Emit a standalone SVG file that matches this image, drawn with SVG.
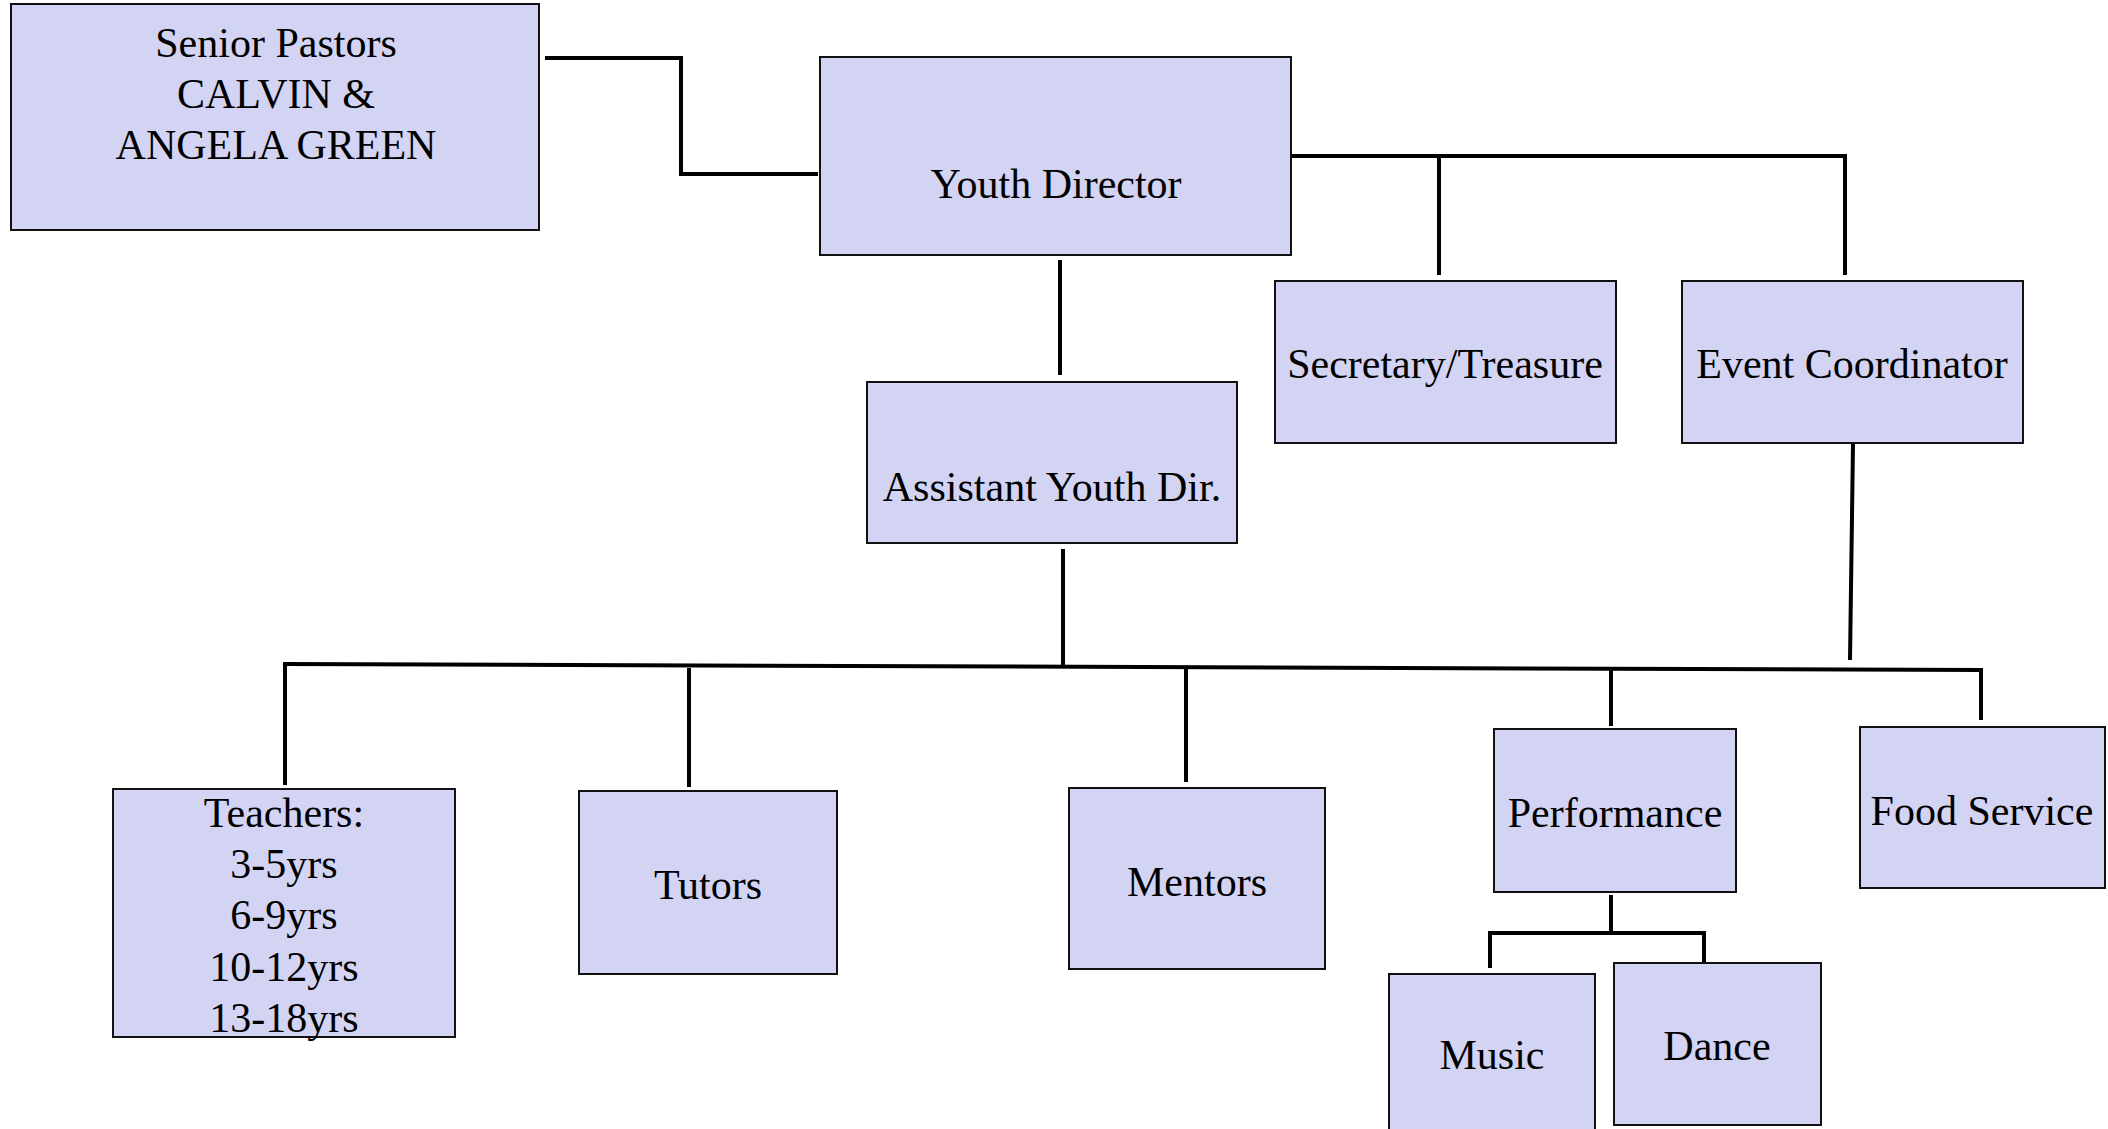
<svg xmlns="http://www.w3.org/2000/svg" width="2108" height="1129" viewBox="0 0 2108 1129">
<style>
.box{fill:#d3d3f3;stroke:#111;stroke-width:2}
.t{font-family:"Liberation Serif","Times New Roman",serif;font-size:42px;fill:#000;text-anchor:middle}
.c{fill:none;stroke:#000;stroke-width:4}
</style>
<rect width="2108" height="1129" fill="#fff"/>
<g id="connectors">
<path class="c" d="M545,58 H681 V174 H818"/>
<path class="c" d="M1291,156 H1845 V275"/>
<path class="c" d="M1439,156 V275"/>
<path class="c" d="M1060,260 V375"/>
<path class="c" d="M1063,549 V666"/>
<path class="c" d="M283,664 L1981,670 V720"/>
<path class="c" d="M285,666 V785"/>
<path class="c" d="M689,668 V787"/>
<path class="c" d="M1186,668 V782"/>
<path class="c" d="M1611,669 V726"/>
<path class="c" d="M1853,444 L1850,660"/>
<path class="c" d="M1611,895 V933"/>
<path class="c" d="M1490,968 V933 H1704 V962"/>
</g>
<g id="senior-pastors">
<rect class="box" x="11" y="4" width="528" height="226"/>
<text class="t" x="276" y="57">Senior Pastors</text>
<text class="t" x="276" y="108">CALVIN &amp;</text>
<text class="t" x="276" y="159">ANGELA GREEN</text>
</g>
<g id="youth-director">
<rect class="box" x="820" y="57" width="471" height="198"/>
<text class="t" x="1056" y="198">Youth Director</text>
</g>
<g id="secretary">
<rect class="box" x="1275" y="281" width="341" height="162"/>
<text class="t" x="1445" y="378">Secretary/Treasure</text>
</g>
<g id="event-coordinator">
<rect class="box" x="1682" y="281" width="341" height="162"/>
<text class="t" x="1852" y="378">Event Coordinator</text>
</g>
<g id="assistant">
<rect class="box" x="867" y="382" width="370" height="161"/>
<text class="t" x="1052" y="501">Assistant Youth Dir.</text>
</g>
<g id="teachers">
<rect class="box" x="113" y="789" width="342" height="248"/>
<text class="t" x="284" y="827">Teachers:</text>
<text class="t" x="284" y="878">3-5yrs</text>
<text class="t" x="284" y="929">6-9yrs</text>
<text class="t" x="284" y="981">10-12yrs</text>
<text class="t" x="284" y="1032">13-18yrs</text>
</g>
<g id="tutors">
<rect class="box" x="579" y="791" width="258" height="183"/>
<text class="t" x="708" y="899">Tutors</text>
</g>
<g id="mentors">
<rect class="box" x="1069" y="788" width="256" height="181"/>
<text class="t" x="1197" y="896">Mentors</text>
</g>
<g id="performance">
<rect class="box" x="1494" y="729" width="242" height="163"/>
<text class="t" x="1615" y="827">Performance</text>
</g>
<g id="food-service">
<rect class="box" x="1860" y="727" width="245" height="161"/>
<text class="t" x="1982" y="825">Food Service</text>
</g>
<g id="music">
<rect class="box" x="1389" y="974" width="206" height="170"/>
<text class="t" x="1492" y="1069">Music</text>
</g>
<g id="dance">
<rect class="box" x="1614" y="963" width="207" height="162"/>
<text class="t" x="1717" y="1060">Dance</text>
</g>
</svg>
